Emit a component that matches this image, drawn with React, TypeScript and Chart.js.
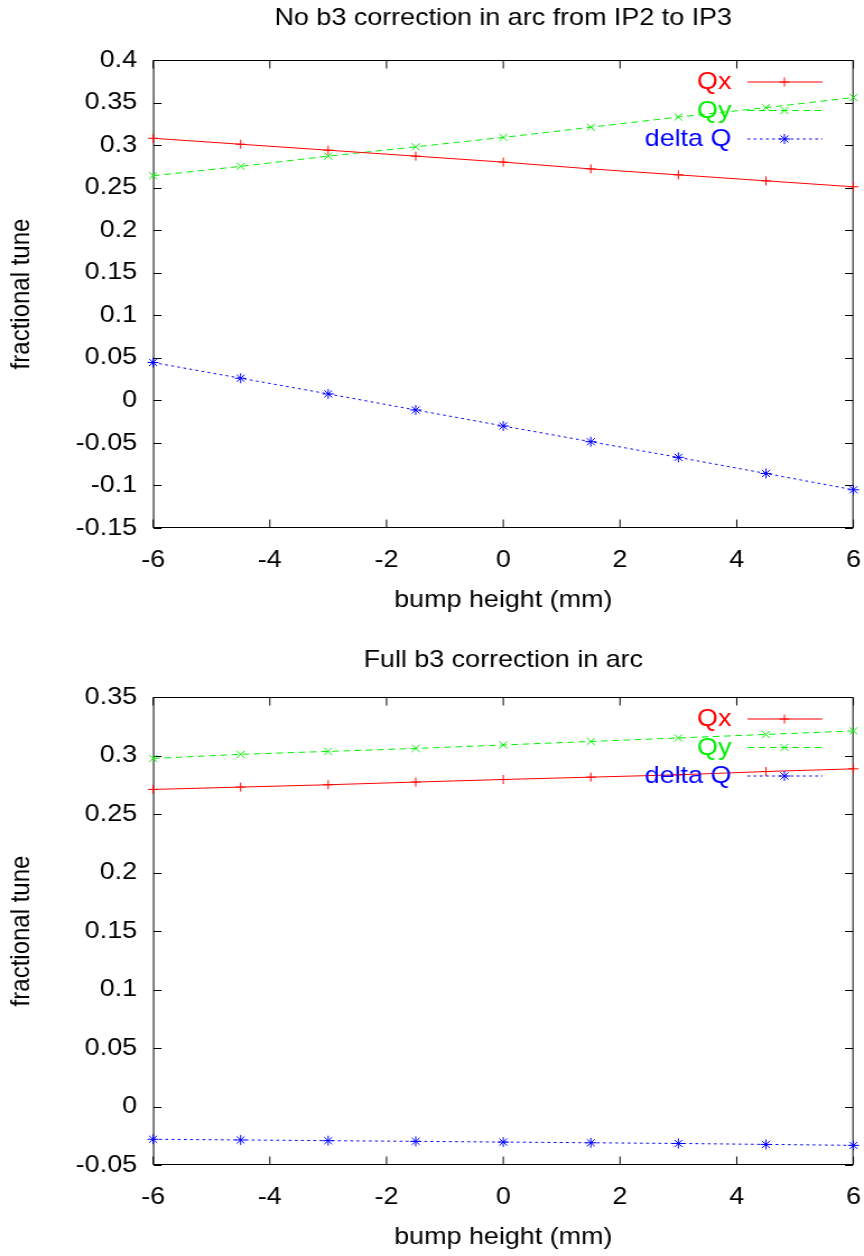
import React, { useEffect, useRef } from "react";
import { Chart, registerables } from "chart.js";

Chart.register(...registerables);

// ---------------- data ----------------
const bumpHeightMm = [-6, -4.5, -3, -1.5, 0, 1.5, 3, 4.5, 6];

// top panel: no b3 correction in arc from IP2 to IP3
const qxNoCorrection = [0.308, 0.301, 0.294, 0.287, 0.28, 0.272, 0.265, 0.258, 0.251];
const qyNoCorrection = [0.264, 0.275, 0.287, 0.298, 0.309, 0.321, 0.333, 0.344, 0.356];
const deltaQNoCorrection = [0.0445, 0.026, 0.0076, -0.0113, -0.0301, -0.0486, -0.067, -0.0859, -0.1051];

// bottom panel: full b3 correction in arc
const qxFullCorrection = [0.271, 0.273, 0.275, 0.2773, 0.2795, 0.2815, 0.2835, 0.2863, 0.2886];
const qyFullCorrection = [0.2975, 0.301, 0.3035, 0.306, 0.309, 0.312, 0.315, 0.318, 0.321];
const deltaQFullCorrection = [-0.028, -0.0286, -0.0292, -0.0298, -0.0304, -0.031, -0.0316, -0.0324, -0.0332];

const seriesNames = ["Qx", "Qy", "delta Q"];
const panelTitles = ["No b3 correction in arc from IP2 to IP3", "Full b3 correction in arc"];
const xAxisTitle = "bump height (mm)";
const yAxisTitle = "fractional tune";

const xRange = [-6, 6];
const xTickStep = 2;
const topYRange = [-0.15, 0.4];
const bottomYRange = [-0.05, 0.35];
const yTickStep = 0.05;

// ---------------- styling ----------------
const S = 1.12; // horizontal stretch factor (page px per canvas px)
const PAGE_W = 864;
const CW = Math.round(PAGE_W / S);
const FONT = "'Liberation Sans', Arial, Helvetica, sans-serif";
const FS = 24;
const LH = FS * 1.2;
const PLOT_LEFT = 153 / S;
const PLOT_RIGHT = 853 / S;
const PLOT_TOP = 60;
const PLOT_BOTTOM = 528;

const COLORS = ["#ff0000", "#00f000", "#0000ff"];
const DASHES: number[][] = [[], [6, 4], [2.5, 3]];
const MARKERS = ["cross", "crossRot", "star"];
const MARKER_R = [4.5, 5, 5];

function drawMarker(ctx: CanvasRenderingContext2D, style: string, x: number, y: number, r: number) {
  ctx.beginPath();
  if (style === "cross" || style === "star") {
    ctx.moveTo(x - r, y);
    ctx.lineTo(x + r, y);
    ctx.moveTo(x, y - r);
    ctx.lineTo(x, y + r);
  }
  if (style === "crossRot" || style === "star") {
    const d = r * Math.SQRT1_2;
    ctx.moveTo(x - d, y - d);
    ctx.lineTo(x + d, y + d);
    ctx.moveTo(x - d, y + d);
    ctx.lineTo(x + d, y - d);
  }
  ctx.stroke();
}

const gnuFramePlugin = {
  id: "gnuFrame",
  beforeDatasetsDraw(chart: any) {
    const { ctx, chartArea: a, scales } = chart;
    ctx.save();
    ctx.strokeStyle = "#000";
    ctx.lineWidth = 1;
    ctx.setLineDash([]);
    const L = a.left + 0.45;
    const R = a.right - 0.45;
    const T = Math.round(a.top) + 0.5;
    const B = Math.round(a.bottom) - 0.5;
    ctx.strokeRect(L, T, R - L, B - T);
    const tl = 8;
    ctx.beginPath();
    for (const t of scales.x.ticks) {
      const px = scales.x.getPixelForValue(t.value);
      ctx.moveTo(px, B);
      ctx.lineTo(px, B - tl);
      ctx.moveTo(px, T);
      ctx.lineTo(px, T + tl);
    }
    for (const t of scales.y.ticks) {
      const py = Math.round(scales.y.getPixelForValue(t.value)) + 0.5;
      ctx.moveTo(L, py);
      ctx.lineTo(L + tl / S, py);
      ctx.moveTo(R, py);
      ctx.lineTo(R - tl / S, py);
    }
    ctx.stroke();
    ctx.restore();
  },
  afterDatasetsDraw(chart: any) {
    const { ctx, chartArea: a } = chart;
    ctx.save();
    ctx.font = `${FS}px ${FONT}`;
    ctx.textAlign = "right";
    ctx.textBaseline = "middle";
    chart.data.datasets.forEach((ds: any, i: number) => {
      const y = a.top + 21.5 + i * 28.5;
      ctx.fillStyle = COLORS[i];
      ctx.fillText(ds.label, a.right - 122 / S, y + 1);
      ctx.strokeStyle = COLORS[i];
      ctx.lineWidth = 1;
      ctx.setLineDash(DASHES[i]);
      ctx.beginPath();
      ctx.moveTo(a.right - 106 / S, y + 0.5);
      ctx.lineTo(a.right - 31 / S, y + 0.5);
      ctx.stroke();
      ctx.setLineDash([]);
      drawMarker(ctx, MARKERS[i], a.right - 69 / S, y + 0.5, MARKER_R[i]);
    });
    ctx.restore();
  },
};

function fmtY(v: number) {
  const r = Math.round(v * 100) / 100;
  return String(Object.is(r, -0) ? 0 : r);
}

type PanelProps = {
  top: number;
  height: number;
  title: string;
  series: number[][];
  yRange: number[];
  titlePadTop: number;
};

function Panel({ top, height, title, series, yRange, titlePadTop }: PanelProps) {
  const ref = useRef<HTMLCanvasElement>(null);
  useEffect(() => {
    const canvas = ref.current!;
    const font = { family: FONT, size: FS, weight: "normal" as const };
    const titleTotal = PLOT_TOP;
    const xAxisHeight = height - PLOT_BOTTOM;
    const xTitleCenter = 600; // canvas y of x-axis title centre
    const chart = new Chart(canvas, {
      type: "line",
      data: {
        datasets: series.map((vals, i) => ({
          label: seriesNames[i],
          data: bumpHeightMm.map((x, j) => ({ x, y: vals[j] })),
          borderColor: COLORS[i],
          backgroundColor: COLORS[i],
          borderWidth: 1,
          borderDash: DASHES[i],
          pointStyle: MARKERS[i] as any,
          pointRadius: MARKER_R[i],
          pointBorderWidth: 1,
          pointBorderColor: COLORS[i],
          pointBackgroundColor: COLORS[i],
          fill: false,
          tension: 0,
          clip: false as any,
        })),
      },
      options: {
        animation: false,
        responsive: false,
        devicePixelRatio: 1,
        layout: { padding: 0 },
        plugins: {
          legend: { display: false },
          tooltip: { enabled: false },
          title: {
            display: true,
            text: title,
            fullSize: false,
            color: "#000",
            font,
            padding: { top: titlePadTop, bottom: titleTotal - LH - titlePadTop },
          },
        },
        scales: {
          x: {
            type: "linear",
            min: xRange[0],
            max: xRange[1],
            grid: { display: false, drawTicks: false },
            border: { display: false },
            ticks: {
              stepSize: xTickStep,
              color: "#000",
              font,
              padding: 17.6,
              maxRotation: 0,
              autoSkip: false,
            },
            title: {
              display: true,
              text: xAxisTitle,
              color: "#000",
              font,
              padding: { top: 0, bottom: height - xTitleCenter - LH / 2 },
            },
            afterFit: (s: any) => {
              s.height = xAxisHeight;
              s.paddingLeft = 0;
              s.paddingRight = CW - PLOT_RIGHT;
            },
          },
          y: {
            type: "linear",
            min: yRange[0],
            max: yRange[1],
            grid: { display: false, drawTicks: false },
            border: { display: false },
            ticks: {
              stepSize: yTickStep,
              color: "#000",
              font,
              padding: 16 / S,
              callback: (v: any) => fmtY(Number(v)),
            },
            title: {
              display: true,
              text: yAxisTitle,
              color: "#000",
              font,
              padding: { top: 22 / S - LH / 2, bottom: 0 },
            },
            afterFit: (s: any) => {
              s.width = PLOT_LEFT;
            },
          },
        },
      },
      plugins: [gnuFramePlugin],
    } as any);
    return () => chart.destroy();
  }, []);
  return (
    <canvas
      ref={ref}
      width={CW}
      height={height}
      style={{ position: "absolute", left: 0, top, width: PAGE_W + "px", height: height + "px" }}
    />
  );
}

export default function App() {
  return (
    <div
      style={{
        position: "absolute",
        left: 0,
        top: 0,
        width: PAGE_W,
        height: 1256,
        overflow: "hidden",
        background: "#fff",
      }}
    >
      <Panel
        top={0}
        height={637}
        title={panelTitles[0]}
        series={[qxNoCorrection, qyNoCorrection, deltaQNoCorrection]}
        yRange={topYRange}
        titlePadTop={18 - LH / 2}
      />
      <Panel
        top={637}
        height={619}
        title={panelTitles[1]}
        series={[qxFullCorrection, qyFullCorrection, deltaQFullCorrection]}
        yRange={bottomYRange}
        titlePadTop={23 - LH / 2}
      />
    </div>
  );
}
